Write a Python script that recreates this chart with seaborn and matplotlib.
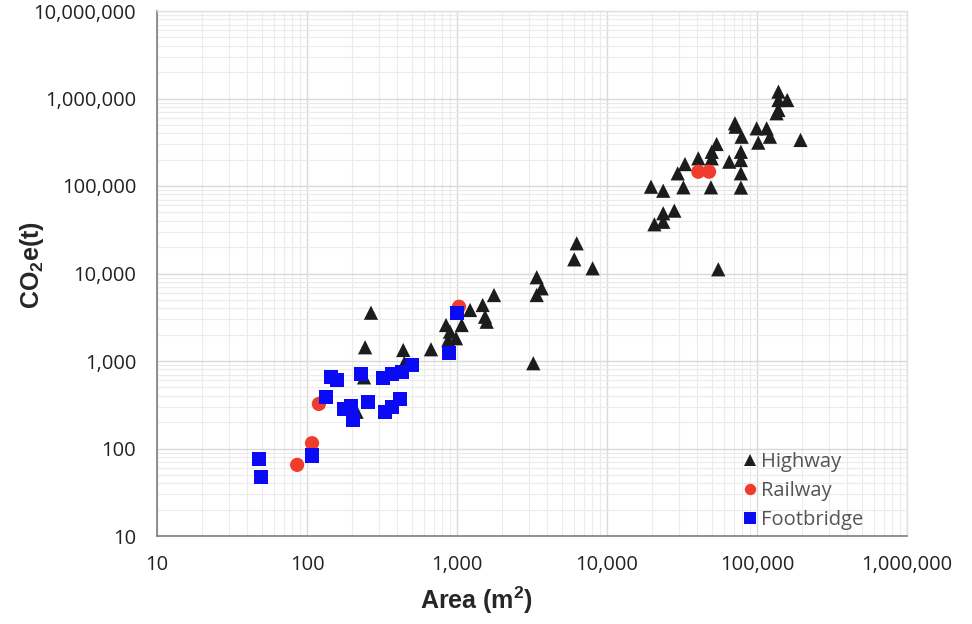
import matplotlib
matplotlib.use("Agg")
import matplotlib.pyplot as plt
from matplotlib.ticker import FuncFormatter, LogLocator, NullFormatter
import seaborn as sns
import pandas as pd

# ---- data ----
highway_area = [267, 244, 240, 214, 438, 445, 671, 845, 898, 875, 985, 1075, 1222, 1483, 1538,
                1577, 1765, 3400, 3667, 3400, 3226, 6280, 6050, 8020, 19650, 23700, 32300, 29600,
                33100, 40600, 49300, 49900, 49900, 53800, 65300, 71300, 72000, 78100, 78100, 78100,
                78100, 79000, 99500, 102000, 116000, 122000, 139000, 139000, 159000, 135000, 139000,
                195000, 23700, 28100, 23700, 20700, 55200]
highway_co2 = [3565, 1435, 650, 263, 1336, 948, 1362, 2578, 2163, 1738, 1820, 2578, 3828, 4365, 3206,
               2812, 5675, 9060, 6770, 5675, 943, 22130, 14520, 11460, 98200, 88300, 96600, 139600,
               178000, 207000, 96600, 207000, 246000, 302000, 189700, 521000, 476000, 246000, 198000,
               139600, 96000, 366000, 456000, 313000, 456000, 366000, 1197000, 961000, 961000, 678000,
               740000, 336000, 48800, 52300, 39000, 36500, 11170]

railway_area = [86, 108, 120, 1031, 40600, 47900]
railway_co2 = [65, 115, 323, 4170, 145600, 145600]

footbridge_area = [47.9, 49.1, 108, 134.5, 144, 158, 176, 196, 202, 228, 255, 323, 367, 428, 499,
                   331, 367, 417, 889, 1004]
footbridge_co2 = [76, 47.6, 83, 391, 661, 607, 281, 306, 212, 705, 343, 644, 705, 755, 900,
                  263, 301, 365, 1224, 3565]

categories = ["Highway", "Railway", "Footbridge"]
x_ticks = [10, 100, 1000, 10000, 100000, 1000000]
y_ticks = [10, 100, 1000, 10000, 100000, 1000000, 10000000]

df = pd.DataFrame({
    "Area": highway_area + railway_area + footbridge_area,
    "CO2": highway_co2 + railway_co2 + footbridge_co2,
    "Type": (["Highway"] * len(highway_area) + ["Railway"] * len(railway_area)
             + ["Footbridge"] * len(footbridge_area)),
})

sns.set_style("white")
plt.rcParams["font.family"] = ["Open Sans", "DejaVu Sans"]
plt.rcParams["mathtext.fontset"] = "custom"
plt.rcParams["mathtext.rm"] = "Liberation Sans:bold"
plt.rcParams["mathtext.bf"] = "Liberation Sans:bold"

fig = plt.figure(figsize=(9.72, 6.24), dpi=100)
ax = fig.add_axes([157 / 972, 1 - 536 / 624, 750 / 972, 525 / 624])

palette = {"Highway": "#1c1c1c", "Railway": "#f03c2d", "Footbridge": "#0a0af5"}
markers = {"Highway": "^", "Railway": "o", "Footbridge": "s"}

sns.scatterplot(data=df, x="Area", y="CO2", hue="Type", style="Type",
                hue_order=categories, style_order=categories,
                palette=palette, markers=markers, s=105, linewidth=0,
                ax=ax, zorder=3)

ax.set_xscale("log")
ax.set_yscale("log")
ax.set_xlim(10, 1000000)
ax.set_ylim(10, 10000000)

fmt = FuncFormatter(lambda v, _: f"{int(round(v)):,}")
ax.set_xticks(x_ticks)
ax.set_yticks(y_ticks)
ax.xaxis.set_major_formatter(fmt)
ax.yaxis.set_major_formatter(fmt)
ax.xaxis.set_minor_locator(LogLocator(base=10, subs=range(2, 10)))
ax.yaxis.set_minor_locator(LogLocator(base=10, subs=range(2, 10)))
ax.xaxis.set_minor_formatter(NullFormatter())
ax.yaxis.set_minor_formatter(NullFormatter())

ax.grid(which="major", color="#d9d9d9", linewidth=1.0, zorder=0)
ax.grid(which="minor", color="#ebebeb", linewidth=0.8, zorder=0)
ax.set_axisbelow(True)

for side in ["top", "right"]:
    ax.spines[side].set_color("#e0e0e0")
    ax.spines[side].set_linewidth(1.0)
for side in ["left", "bottom"]:
    ax.spines[side].set_color("#7f7f7f")
    ax.spines[side].set_linewidth(1.2)

ax.tick_params(which="major", direction="in", length=7, width=1.2, color="#7f7f7f",
               labelsize=14.5, labelcolor="#222222")
ax.tick_params(which="minor", length=0)
ax.tick_params(axis="y", pad=15)
ax.tick_params(axis="x", pad=14)

ax.set_xlabel(r"Area (m$^\mathbf{2}$)", fontsize=18, fontweight="bold",
              family="Liberation Sans")
ax.set_ylabel(r"CO$_\mathbf{2}$e(t)", fontsize=18, fontweight="bold",
              family="Liberation Sans")
ax.xaxis.set_label_coords((476 - 157) / 750, (536 - 600) / 525)
ax.yaxis.set_label_coords((32 - 157) / 750, (536 - 265) / 525)
ax.xaxis.label.set_verticalalignment("center")
ax.yaxis.label.set_verticalalignment("center")

leg = ax.legend(loc="lower left", bbox_to_anchor=(0.759, -0.016), frameon=False,
                fontsize=14.5, handlelength=1.0, handletextpad=0.05, labelspacing=0.45,
                markerscale=0.8, borderpad=0.2)
for t in leg.get_texts():
    t.set_color("#555555")

fig.savefig("out.png", dpi=100)
